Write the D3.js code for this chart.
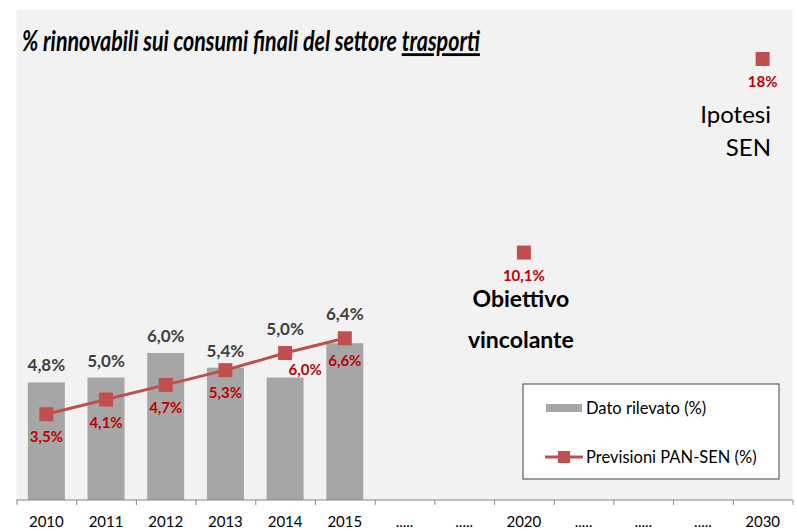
<!doctype html>
<html>
  <head>
    <script src="https://cdn.jsdelivr.net/npm/d3@7"></script>
    <style>
      body { margin: 0; background: #fff; }
      text { font-family: Lato, "Open Sans", sans-serif; }
    </style>
  </head>
  <body>
    <svg id="chart" width="797" height="531"></svg>

    <script>
      // categories on the x axis
      var categories = ["2010", "2011", "2012", "2013", "2014", "2015",
        ".....", ".....", "2020", ".....", ".....", ".....", "2030"];

      // measured values (bars), only for the first years
      var datoRilevato = [4.8, 5.0, 6.0, 5.4, 5.0, 6.4,
        null, null, null, null, null, null, null];

      // forecasts (line + markers)
      var previsioni = [3.5, 4.1, 4.7, 5.3, 6.0, 6.6,
        null, null, 10.1, null, null, null, 18];

      var prevLabels = ["3,5%", "4,1%", "4,7%", "5,3%", "6,0%", "6,6%",
        null, null, "10,1%", null, null, null, "18%"];
      var barLabels = ["4,8%", "5,0%", "6,0%", "5,4%", "5,0%", "6,4%"];

      var svg = d3.select("#chart");
      var plotL = 16.5, plotR = 792.5, plotT = 10, plotB = 500;

      // plot background
      svg.append("rect")
        .attr("x", plotL).attr("y", plotT)
        .attr("width", plotR - plotL).attr("height", plotB - plotT)
        .attr("fill", "#f2f2f2");

      var x = d3.scaleBand()
        .domain(d3.range(categories.length))
        .range([plotL, plotR])
        .paddingInner(0.38)
        .paddingOuter(0.19);

      var y = d3.scaleLinear().domain([0, 20]).range([plotB, plotT]);

      var cx = function(i) { return x(i) + x.bandwidth() / 2; };

      // bars
      svg.selectAll("rect.bar")
        .data(datoRilevato.filter(function(d) { return d !== null; }))
        .enter().append("rect")
          .attr("class", "bar")
          .attr("x", function(d, i) { return x(i); })
          .attr("y", function(d) { return y(d); })
          .attr("width", x.bandwidth())
          .attr("height", function(d) { return plotB - y(d); })
          .attr("fill", "#a6a6a6");

      // bar labels sit above the bar, or above the marker when it is higher
      svg.selectAll("text.barlab")
        .data(barLabels)
        .enter().append("text")
          .attr("class", "barlab")
          .attr("x", function(d, i) { return cx(i); })
          .attr("y", function(d, i) {
            var top = y(datoRilevato[i]), m = y(previsioni[i]);
            return (m < top ? m - 24 : top - 17) + 6;
          })
          .attr("text-anchor", "middle")
          .attr("font-size", 17)
          .attr("font-weight", "bold")
          .attr("fill", "#404040")
          .text(function(d) { return d; });

      // x axis
      var axis = d3.axisBottom(d3.scaleLinear().domain([0, categories.length]).range([plotL, plotR]))
        .tickValues(d3.range(categories.length + 1))
        .tickSize(5)
        .tickFormat("");
      var gx = svg.append("g").attr("transform", "translate(0," + plotB + ")").call(axis);
      gx.selectAll("path, line").attr("stroke", "#868686");
      gx.select(".domain").attr("d", "M" + plotL + ",0H" + plotR);

      svg.selectAll("text.cat")
        .data(categories)
        .enter().append("text")
          .attr("class", "cat")
          .attr("x", function(d, i) { return cx(i); })
          .attr("y", 527)
          .attr("text-anchor", "middle")
          .attr("font-size", 15)
          .attr("fill", "#000")
          .text(function(d) { return d; });

      // forecast line (connected only where consecutive values exist)
      var line = d3.line()
        .defined(function(d) { return d !== null; })
        .x(function(d, i) { return cx(i); })
        .y(function(d) { return y(d); });

      var lineData = previsioni.map(function(d, i) {
        var connected = (i > 0 && previsioni[i - 1] !== null) || (previsioni[i + 1] != null);
        return connected ? d : null;
      });

      svg.append("path")
        .datum(lineData)
        .attr("d", line)
        .attr("fill", "none")
        .attr("stroke", "#c0504d")
        .attr("stroke-width", 3);

      var pts = previsioni.map(function(d, i) { return { v: d, i: i, lab: prevLabels[i] }; })
        .filter(function(d) { return d.v !== null; });

      svg.selectAll("rect.mark")
        .data(pts)
        .enter().append("rect")
          .attr("class", "mark")
          .attr("x", function(d) { return cx(d.i) - 7; })
          .attr("y", function(d) { return y(d.v) - 7; })
          .attr("width", 14).attr("height", 14)
          .attr("fill", "#c0504d");

      svg.selectAll("text.prevlab")
        .data(pts)
        .enter().append("text")
          .attr("class", "prevlab")
          .attr("x", function(d) { return cx(d.i) + (d.i === 4 ? 20 : 0); })
          .attr("y", function(d) { return y(d.v) + (d.i === 4 ? 22 : 28); })
          .attr("text-anchor", "middle")
          .attr("font-size", 15)
          .attr("font-weight", "bold")
          .attr("fill", "#c00000")
          .text(function(d) { return d.lab; });

      // annotations
      svg.append("text")
        .attr("x", cx(8) - 3).attr("y", 307)
        .attr("text-anchor", "middle")
        .attr("font-size", 23).attr("font-weight", "bold").attr("fill", "#000")
        .selectAll("tspan").data(["Obiettivo", "vincolante"]).enter().append("tspan")
          .attr("x", cx(8) - 3).attr("dy", function(d, i) { return i ? 41 : 0; })
          .text(function(d) { return d; });

      svg.append("text")
        .attr("x", 771).attr("y", 123)
        .attr("text-anchor", "end")
        .attr("font-size", 24).attr("fill", "#000")
        .selectAll("tspan").data(["Ipotesi", "SEN"]).enter().append("tspan")
          .attr("x", 771).attr("dy", function(d, i) { return i ? 33 : 0; })
          .text(function(d) { return d; });

      // title: squeezed horizontally to the width of the original (narrower) font
      var title = svg.append("text")
        .attr("font-size", 28).attr("font-weight", "bold").attr("font-style", "italic")
        .attr("fill", "#000");
      title.append("tspan").text("% rinnovabili sui consumi finali del settore ");
      title.append("tspan").attr("text-decoration", "underline").text("trasporti");
      var tw = title.node().getComputedTextLength();
      title.attr("transform", "translate(22,51) scale(" + (458 / tw) + ",1)");

      // legend
      var lg = svg.append("g").attr("transform", "translate(523,384)");
      lg.append("rect")
        .attr("width", 256).attr("height", 95)
        .attr("fill", "#fff").attr("stroke", "#404040").attr("stroke-width", 1);
      lg.append("rect")
        .attr("x", 23).attr("y", 20).attr("width", 36).attr("height", 8)
        .attr("fill", "#a6a6a6");
      lg.append("text")
        .attr("x", 63).attr("y", 30)
        .attr("font-size", 16.5).attr("fill", "#000")
        .text("Dato rilevato (%)");
      lg.append("line")
        .attr("x1", 22).attr("x2", 60).attr("y1", 73).attr("y2", 73)
        .attr("stroke", "#c0504d").attr("stroke-width", 3);
      lg.append("rect")
        .attr("x", 35).attr("y", 67).attr("width", 12).attr("height", 12)
        .attr("fill", "#c0504d");
      lg.append("text")
        .attr("x", 63).attr("y", 79)
        .attr("font-size", 16.5).attr("fill", "#000")
        .text("Previsioni PAN-SEN (%)");
    </script>
  </body>
</html>
